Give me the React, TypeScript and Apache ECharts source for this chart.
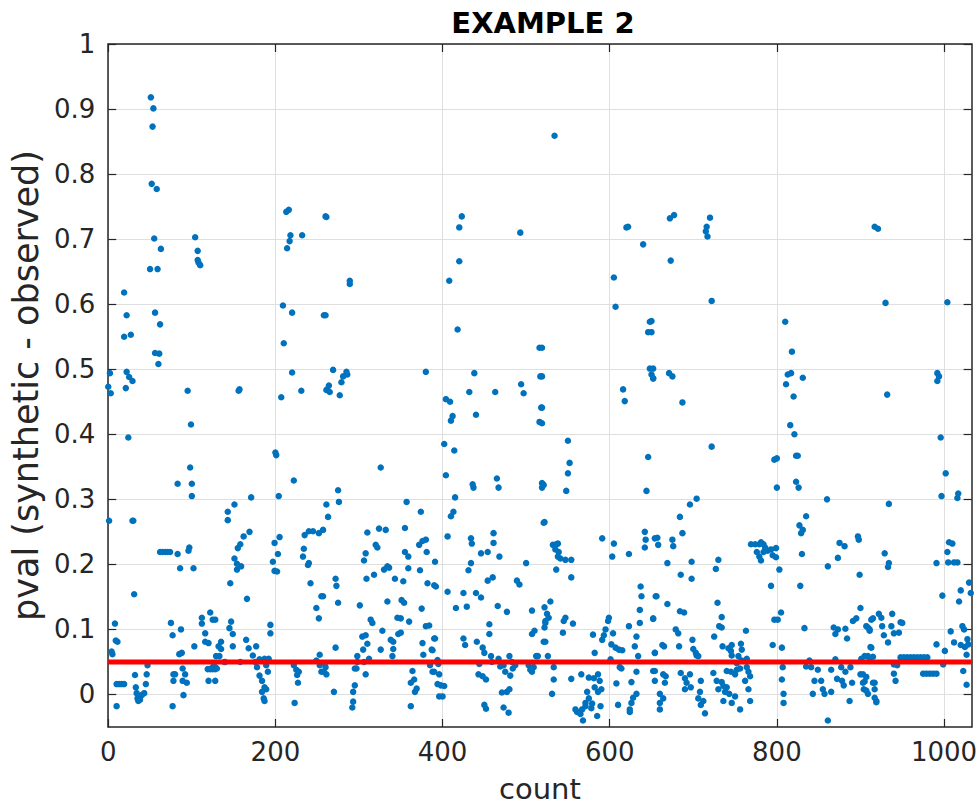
import React, { useEffect, useRef } from "react";
import * as echarts from "echarts";

// ---- data ----
const titleText = "EXAMPLE 2";
const xName = "count";
const yName = "pval (synthetic - observed)";
const xMax = 1033;
const yMin = -0.05;
const yMax = 1;
const threshold = 0.05;
const xTicks = [0, 200, 400, 600, 800, 1000];
const yTicks = [0, 0.1, 0.2, 0.3, 0.4, 0.5, 0.6, 0.7, 0.8, 0.9, 1];

// [count, pval] samples, grouped by range of count
const block1: [number, number][] = [
  [51,0.918],[54,0.901],[53,0.873],[52,0.785],[58,0.777],[55,0.701],[63,0.685],[50,0.654],[59,0.654],
  [104,0.703],[107,0.682],[107,0.668],[108,0.664],[110,0.660],
  [19,0.618],[22,0.583],[19,0.550],[27,0.553],
  [56,0.587],[62,0.569],[56,0.525],[61,0.524],[60,0.508],
  [2,0.494],[0,0.473],[3,0.463],[22,0.496],[25,0.488],[29,0.482],[21,0.471],
  [95,0.467],[99,0.415],[24,0.395],[98,0.349],[83,0.324],[100,0.324],[100,0.305],
  [1,0.267],[29,0.267],[30,0.267],
  [62,0.219],[65,0.219],[68,0.219],[71,0.219],[74,0.219],[83,0.216],[86,0.194],[97,0.226],[96,0.221],[102,0.194],
  [31,0.154],[8,0.109],[9,0.083],[11,0.081],[5,0.062],[4,0.066],
  [75,0.110],[77,0.091],[87,0.100],[85,0.062],[88,0.064],
  [47,0.045],[32,0.030],[46,0.031],
  [10,0.016],[13,0.016],[16,0.016],[19,0.016],[10,-0.018],
  [33,0.011],[34,0.002],[36,-0.010],[40,-0.001],[43,0.002],[45,0.016],[35,-0.006],[38,-0.008],
  [78,0.031],[80,0.031],[78,0.021],[89,0.040],[92,0.031],[89,0.021],[94,0.018],[90,-0.001],[77,-0.018],
  [122,0.126],[112,0.118],[112,0.109],[125,0.115],[116,0.094],[116,0.081],[120,0.079],[103,0.074],
  [119,0.039],[122,0.039],[125,0.039],[128,0.039],[120,0.021],[128,0.021],[132,0.074],
];

const block2: [number, number][] = [
  [213,0.742],[216,0.745],[218,0.706],[217,0.697],[214,0.686],[232,0.706],[260,0.735],
  [209,0.598],[220,0.587],[258,0.583],[210,0.540],[220,0.495],[231,0.467],[207,0.457],[261,0.468],[156,0.467],[157,0.469],
  [200,0.372],[201,0.368],[222,0.329],[171,0.303],[204,0.305],[151,0.292],[143,0.281],[143,0.268],[261,0.292],
  [169,0.250],[162,0.243],[158,0.231],[155,0.225],[151,0.209],[154,0.201],[159,0.197],[154,0.192],
  [205,0.242],[199,0.233],[203,0.216],[197,0.204],[199,0.190],[202,0.189],
  [235,0.245],[240,0.251],[245,0.251],[252,0.248],[234,0.224],[233,0.212],[240,0.202],[239,0.199],
  [146,0.171],[166,0.147],[242,0.171],[255,0.151],[249,0.133],[252,0.117],
  [128,0.115],[145,0.102],[147,0.112],[149,0.093],[135,0.081],[135,0.070],[133,0.059],[149,0.074],
  [165,0.084],[168,0.071],[177,0.074],[194,0.107],[194,0.094],[253,0.061],
  [129,0.059],[130,0.040],[128,0.042],[140,0.050],[139,0.050],[158,0.050],
  [173,0.060],[176,0.050],[181,0.054],[178,0.042],
  [187,0.055],[192,0.055],[189,0.045],[191,0.035],[181,0.029],[184,0.021],[187,0.011],[184,0.004],[189,0.008],[187,-0.010],[186,-0.006],
  [222,0.045],[225,0.038],[228,0.035],[227,0.018],[223,-0.013],[226,0.030],
  [249,0.052],[253,0.045],[255,0.035],[258,0.035],[125,0.042],
];

const block3: [number, number][] = [
  [261,0.734],[289,0.636],[289,0.631],[260,0.583],[269,0.499],
  [264,0.475],[262,0.469],[265,0.465],[277,0.460],[279,0.480],[281,0.489],[285,0.496],[286,0.492],[380,0.496],
  [326,0.349],[275,0.314],[276,0.296],[263,0.273],[257,0.253],
  [310,0.249],[324,0.255],[332,0.253],[320,0.230],[322,0.226],[357,0.296],[374,0.281],[355,0.256],
  [372,0.230],[376,0.236],[380,0.238],[308,0.217],[306,0.206],[355,0.219],[359,0.212],
  [334,0.197],[330,0.192],[336,0.195],[318,0.184],[309,0.178],[343,0.178],[353,0.174],[359,0.194],[373,0.191],[381,0.219],
  [382,0.171],[390,0.168],[272,0.178],[273,0.167],[275,0.141],[257,0.151],[301,0.137],
  [334,0.143],[351,0.145],[354,0.141],[314,0.115],[316,0.110],[346,0.118],[350,0.117],[360,0.112],[375,0.132],
  [384,0.106],[380,0.105],[328,0.098],[338,0.084],[341,0.081],[347,0.093],[350,0.095],
  [304,0.089],[308,0.091],[310,0.078],[305,0.069],[272,0.072],[326,0.069],[340,0.059],[341,0.070],[390,0.086],
  [376,0.079],[377,0.061],[387,0.069],[385,0.045],
  [298,0.059],[298,0.050],[297,0.040],[295,0.040],[306,0.050],[312,0.055],[308,0.031],
  [259,0.048],[260,0.042],[261,0.031],[270,0.004],
  [295,0.014],[293,0.004],[293,-0.011],[292,-0.020],
  [362,0.018],[366,0.023],[364,0.036],[367,0.004],[369,0.009],[362,-0.018],[388,0.035],
];

const block4: [number, number][] = [
  [423,0.735],[420,0.718],[420,0.666],[408,0.636],[493,0.710],[418,0.561],[516,0.533],
  [438,0.494],[517,0.489],[432,0.465],[463,0.465],[494,0.477],[497,0.463],[404,0.454],[409,0.450],
  [412,0.428],[410,0.421],[440,0.430],[518,0.441],[516,0.419],[402,0.385],[414,0.375],[404,0.337],
  [436,0.323],[437,0.318],[465,0.332],[467,0.318],[520,0.323],[519,0.318],
  [415,0.303],[413,0.281],[410,0.274],[521,0.264],[406,0.243],[434,0.240],[435,0.232],[461,0.248],[461,0.233],
  [446,0.217],[454,0.219],[468,0.212],[434,0.202],[431,0.191],[500,0.202],[391,0.204],[392,0.166],
  [454,0.175],[460,0.180],[489,0.175],[492,0.169],[406,0.158],[425,0.156],[440,0.156],[446,0.149],
  [416,0.133],[429,0.135],[466,0.136],[477,0.127],[507,0.129],[522,0.134],[523,0.113],[522,0.103],
  [456,0.108],[456,0.093],[391,0.086],[425,0.086],[427,0.076],[441,0.081],[448,0.072],
  [510,0.098],[507,0.093],[512,0.059],[521,0.081],[388,0.068],[394,0.053],[395,0.047],
  [444,0.047],[450,0.064],[458,0.059],[459,0.050],[452,0.023],[443,0.031],[448,0.028],
  [467,0.055],[469,0.043],[473,0.045],[475,0.035],[480,0.059],[483,0.050],[484,0.040],[487,0.045],[481,0.029],
  [471,0.003],[477,0.004],[480,0.008],[450,-0.016],[452,-0.022],[473,-0.020],[479,-0.028],
  [503,0.045],[505,0.038],[509,0.042],[507,0.035],[514,0.059],
  [390,0.035],[396,0.031],[398,0.014],[402,0.013],[394,0.016],[400,-0.003],[396,-0.003],
];

const block5: [number, number][] = [
  [534,0.859],[620,0.718],[622,0.719],[640,0.692],[605,0.641],[607,0.596],[648,0.573],[646,0.557],
  [519,0.533],[519,0.489],[648,0.501],[650,0.492],[652,0.486],[616,0.469],[618,0.451],[519,0.441],[519,0.417],
  [550,0.390],[552,0.356],[550,0.340],[548,0.313],[519,0.325],[521,0.322],[646,0.365],[644,0.313],
  [522,0.265],[591,0.240],[605,0.232],[603,0.212],[623,0.216],[642,0.250],[643,0.238],[642,0.226],[654,0.240],
  [532,0.230],[536,0.231],[538,0.232],[535,0.223],[539,0.219],[541,0.209],[538,0.212],[547,0.207],[554,0.207],
  [536,0.192],[554,0.180],[637,0.166],[638,0.151],[655,0.151],[529,0.143],[525,0.124],[527,0.118],[523,0.110],
  [547,0.118],[545,0.113],[544,0.095],[556,0.109],
  [599,0.118],[598,0.113],[595,0.100],[593,0.091],[591,0.084],[604,0.094],[580,0.092],[623,0.105],
  [636,0.130],[636,0.110],[632,0.089],[630,0.074],[652,0.117],[523,0.081],[582,0.064],
  [602,0.077],[607,0.072],[611,0.069],[615,0.068],[526,0.059],[601,0.054],[634,0.059],[612,0.042],[614,0.040],[654,0.064],
  [533,0.042],[533,0.023],[554,0.024],[566,0.031],[575,0.026],[581,0.025],[586,0.031],[588,0.021],[582,0.011],[586,0.004],[590,0.008],
  [608,0.017],[632,0.035],[626,0.019],[652,0.036],[531,0.001],
  [573,0.004],[575,-0.006],[571,-0.013],[559,-0.023],[561,-0.027],[565,-0.030],[568,-0.040],[567,-0.023],[571,-0.018],[579,-0.014],[578,-0.021],[589,-0.018],[585,-0.033],
  [610,-0.016],[632,0.001],[628,-0.005],[626,-0.013],[624,-0.023],[624,-0.027],
];

const block6: [number, number][] = [
  [672,0.732],[677,0.737],[673,0.667],[720,0.733],[716,0.719],[715,0.712],[717,0.704],[722,0.605],
  [650,0.574],[650,0.557],[652,0.501],[652,0.486],[671,0.494],[675,0.489],[687,0.449],[722,0.381],
  [704,0.301],[696,0.292],[684,0.273],[687,0.248],[657,0.241],[658,0.230],[675,0.238],[676,0.228],
  [769,0.231],[774,0.231],[779,0.231],[784,0.231],[776,0.219],[779,0.212],[781,0.206],
  [669,0.202],[685,0.184],[698,0.204],[698,0.178],[730,0.207],[727,0.193],
  [656,0.151],[669,0.139],[684,0.128],[689,0.126],[729,0.141],[734,0.119],[731,0.105],[734,0.103],[652,0.116],
  [679,0.100],[682,0.094],[725,0.089],[763,0.098],[663,0.076],[665,0.074],[683,0.074],
  [699,0.084],[700,0.070],[703,0.064],[704,0.060],[735,0.074],[742,0.071],[746,0.076],[745,0.067],[746,0.060],
  [757,0.078],[758,0.069],[654,0.064],[706,0.059],
  [654,0.036],[664,0.031],[667,0.028],[654,0.021],[666,0.018],[660,0.001],[660,-0.013],[660,-0.023],[664,-0.006],
  [685,0.033],[690,0.025],[692,0.018],[696,0.031],[690,0.008],[697,0.011],
  [709,0.021],[708,0.004],[706,-0.006],[709,-0.016],[712,-0.010],[714,-0.029],
  [724,0.033],[728,0.021],[734,0.019],[730,0.008],[736,0.013],[738,0.004],[740,0.011],[743,0.001],[736,-0.010],[746,-0.013],[750,-0.003],
  [740,0.036],[745,0.035],[750,0.031],[752,0.038],[752,0.048],[754,0.059],[758,0.052],[756,0.040],[764,0.055],[764,0.042],
  [766,0.035],[762,0.021],[766,0.008],[768,-0.010],[756,-0.023],[768,0.028],
];

const block7: [number, number][] = [
  [810,0.573],[818,0.527],[817,0.494],[813,0.492],[811,0.477],[831,0.487],[820,0.458],[816,0.414],[821,0.400],
  [797,0.361],[800,0.363],[823,0.367],[825,0.367],[800,0.318],[823,0.327],[826,0.318],[860,0.300],
  [835,0.274],[827,0.260],[831,0.253],[829,0.248],[897,0.243],[898,0.238],[875,0.233],[881,0.228],[873,0.210],
  [781,0.234],[786,0.226],[789,0.221],[793,0.223],[799,0.225],[799,0.211],[795,0.214],[784,0.219],
  [803,0.192],[830,0.216],[861,0.197],[793,0.167],[828,0.167],[899,0.184],
  [797,0.115],[801,0.115],[805,0.126],[833,0.102],[900,0.133],[895,0.117],[891,0.113],
  [868,0.103],[870,0.093],[873,0.100],[882,0.101],[884,0.086],[915,0.117],[909,0.103],[911,0.098],
  [795,0.076],[806,0.072],[913,0.072],
  [807,0.042],[806,0.023],[808,0.001],[808,-0.013],
  [839,0.052],[835,0.043],[841,0.042],[849,0.038],[845,0.021],[853,0.021],[843,0.001],[857,0.001],[855,0.008],[865,0.004],[861,-0.040],
  [870,0.054],[865,0.038],[872,0.024],[877,0.042],[878,0.021],[882,0.035],[888,0.042],[890,0.018],[887,-0.010],[880,0.014],
  [901,0.055],[905,0.059],[911,0.055],[900,0.031],[903,0.018],[904,0.008],[909,0.001],[907,0.027],[915,0.018],[917,0.008],[919,-0.010],
];

const block8: [number, number][] = [
  [917,0.719],[921,0.716],[930,0.602],[932,0.461],[934,0.293],[929,0.217],[934,0.202],[933,0.196],
  [992,0.494],[994,0.489],[992,0.482],[996,0.395],[1002,0.340],[997,0.305],[1004,0.603],
  [1017,0.309],[1016,0.302],[1004,0.219],[1006,0.234],[1010,0.232],[1005,0.203],[1012,0.203],[1016,0.203],
  [991,0.202],[1030,0.172],[1020,0.160],[1032,0.156],[1018,0.143],[998,0.152],
  [1008,0.097],[1022,0.105],[1024,0.100],[1012,0.080],[1020,0.076],[1025,0.073],[1028,0.085],[1029,0.077],[1027,0.061],
  [991,0.077],[1001,0.067],[999,0.046],[1023,0.036],[1027,0.015],
  [948,0.057],[952,0.057],[956,0.057],[960,0.057],[964,0.057],[968,0.057],[972,0.057],[976,0.057],[980,0.057],
  [975,0.032],[979,0.032],[983,0.032],[987,0.032],[991,0.032],
  [940,0.046],[944,0.045],[940,0.032],[942,0.021],[917,0.018],[903,0.031],[905,0.020],[907,0.006],[917,-0.005],[919,-0.012],
  [922,0.124],[925,0.118],[938,0.124],[926,0.105],[937,0.105],[948,0.111],[950,0.110],[907,0.105],[911,0.100],[913,0.115],
  [928,0.091],[940,0.094],[946,0.095],[933,0.080],[912,0.073],[909,0.059],[915,0.058],
];

const FONT = "DejaVu Sans";
const AXIS_COLOR = "#262626";
const GRID_COLOR = "#dfdfdf";

export default function App() {
  const ref = useRef<HTMLDivElement>(null);
  useEffect(() => {
    if (!ref.current) return;
    const chart = echarts.init(ref.current, undefined, { renderer: "svg" });
    const points = [...block1, ...block2, ...block3, ...block4, ...block5, ...block6, ...block7, ...block8];
    const axisLine = { onZero: false, lineStyle: { color: AXIS_COLOR, width: 1.5 } };
    const tickStyle = { color: AXIS_COLOR, width: 1.2 };
    const labelStyle = { fontFamily: FONT, fontSize: 26, color: AXIS_COLOR, formatter: (v: number) => String(v) };
    chart.setOption({
      animation: false,
      backgroundColor: "#ffffff",
      title: {
        text: titleText,
        left: 538,
        top: 3,
        textAlign: "center",
        textStyle: { fontFamily: FONT, fontSize: 29, fontWeight: "bold", color: "#000000" },
      },
      grid: { left: 105, right: 8, top: 44, bottom: 79, containLabel: false },
      xAxis: [
        {
          type: "value", min: 0, max: xMax, position: "bottom",
          name: xName, nameLocation: "middle", nameGap: 47,
          nameTextStyle: { fontFamily: FONT, fontSize: 29, color: AXIS_COLOR },
          axisLine,
          axisTick: { show: true, inside: true, length: 8, customValues: xTicks, lineStyle: tickStyle },
          axisLabel: { ...labelStyle, margin: 12, customValues: xTicks },
          splitLine: { show: true, lineStyle: { color: GRID_COLOR, width: 1 } },
        },
        {
          type: "value", min: 0, max: xMax, position: "top",
          axisLine,
          axisTick: { show: true, inside: true, length: 8, customValues: xTicks, lineStyle: tickStyle },
          axisLabel: { show: false },
          splitLine: { show: false },
        },
      ],
      yAxis: [
        {
          type: "value", min: yMin, max: yMax, position: "left",
          name: yName, nameLocation: "middle", nameGap: 65,
          nameTextStyle: { fontFamily: FONT, fontSize: 35, color: AXIS_COLOR },
          axisLine,
          axisTick: { show: true, inside: true, length: 8, customValues: yTicks, lineStyle: tickStyle },
          axisLabel: { ...labelStyle, margin: 13, customValues: yTicks },
          splitLine: { show: true, lineStyle: { color: GRID_COLOR, width: 1 } },
        },
        {
          type: "value", min: yMin, max: yMax, position: "right",
          axisLine,
          axisTick: { show: true, inside: true, length: 8, customValues: yTicks, lineStyle: tickStyle },
          axisLabel: { show: false },
          splitLine: { show: false },
        },
      ],
      series: [
        {
          type: "scatter",
          data: points,
          symbol: "circle",
          symbolSize: 6.5,
          itemStyle: { color: "#0072BD", opacity: 1 },
          xAxisIndex: 0,
          yAxisIndex: 0,
          z: 2,
        },
        {
          type: "line",
          data: [[0, threshold], [xMax, threshold]],
          symbol: "none",
          lineStyle: { color: "#ff0000", width: 5 },
          xAxisIndex: 0,
          yAxisIndex: 0,
          z: 5,
        },
      ],
    });
    return () => chart.dispose();
  }, []);
  return <div ref={ref} style={{ position: "absolute", left: 0, top: 0, width: 980, height: 808 }} />;
}
